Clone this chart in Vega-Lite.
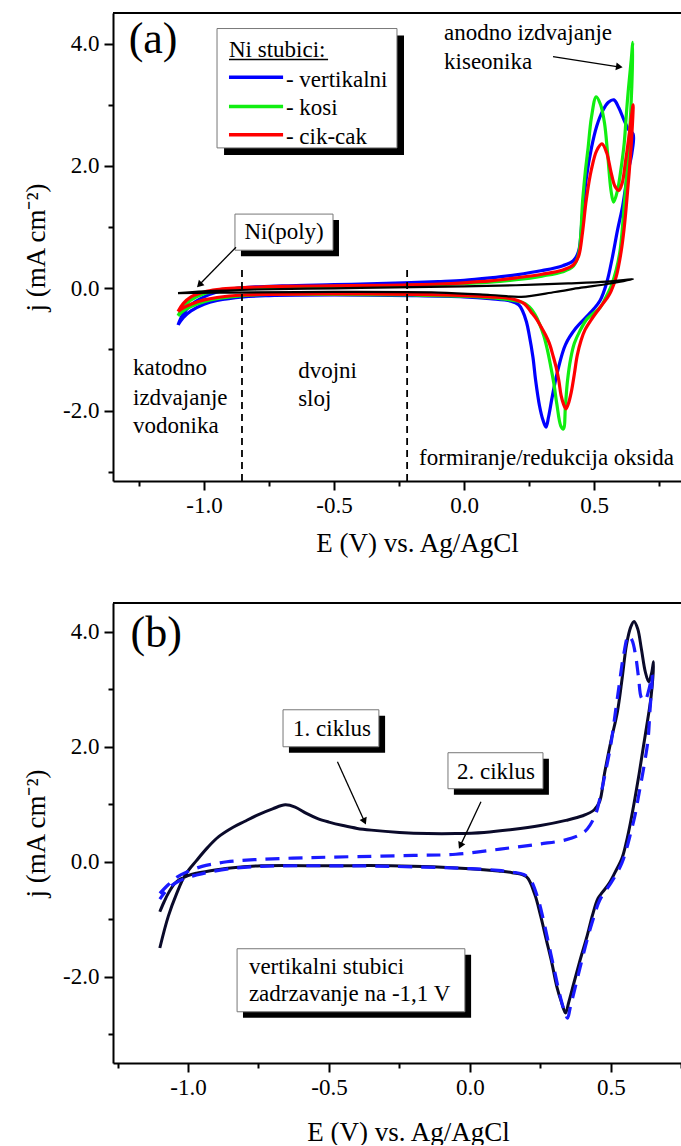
{
  "$schema": "https://vega.github.io/schema/vega-lite/v6.json",
  "padding": {"left": 22, "top": 12, "right": 0, "bottom": 0},
  "spacing": 46,
  "config": {
    "view": {"stroke": null},
    "font": "'Liberation Serif', 'Times New Roman', serif",
    "axis": {"domainColor": "black", "domainWidth": 2, "tickColor": "black", "tickWidth": 2, "labelFont": "'Liberation Serif', 'Times New Roman', serif", "labelFontSize": 23, "labelColor": "black", "titleFont": "'Liberation Serif', 'Times New Roman', serif", "titleFontSize": 27, "titleFontWeight": "normal", "titleColor": "black", "grid": false, "labelFlush": false, "labelOverlap": false},
    "text": {"font": "'Liberation Serif', 'Times New Roman', serif", "fontSize": 23, "color": "black"},
    "line": {"interpolate": "catmull-rom"}
  },
  "datasets": {
    "a": [
      {"s":"vertikalni","i":1,"E":-1.1,"j":-0.6},{"s":"vertikalni","i":2,"E":-1.08,"j":-0.42},{"s":"vertikalni","i":3,"E":-1.05,"j":-0.27},{"s":"vertikalni","i":4,"E":-1.0,"j":-0.14},{"s":"vertikalni","i":5,"E":-0.95,"j":-0.06},{"s":"vertikalni","i":6,"E":-0.9,"j":-0.02},{"s":"vertikalni","i":7,"E":-0.85,"j":0.01},{"s":"vertikalni","i":8,"E":-0.7,"j":0.04},{"s":"vertikalni","i":9,"E":-0.5,"j":0.06},{"s":"vertikalni","i":10,"E":-0.3,"j":0.08},{"s":"vertikalni","i":11,"E":-0.1,"j":0.11},{"s":"vertikalni","i":12,"E":0.0,"j":0.13},{"s":"vertikalni","i":13,"E":0.1,"j":0.17},{"s":"vertikalni","i":14,"E":0.2,"j":0.22},{"s":"vertikalni","i":15,"E":0.3,"j":0.29},{"s":"vertikalni","i":16,"E":0.38,"j":0.37},{"s":"vertikalni","i":17,"E":0.42,"j":0.45},{"s":"vertikalni","i":18,"E":0.44,"j":0.6},{"s":"vertikalni","i":19,"E":0.455,"j":1.2},{"s":"vertikalni","i":20,"E":0.47,"j":1.8},{"s":"vertikalni","i":21,"E":0.49,"j":2.3},{"s":"vertikalni","i":22,"E":0.51,"j":2.65},{"s":"vertikalni","i":23,"E":0.533,"j":2.9},{"s":"vertikalni","i":24,"E":0.555,"j":3.04},{"s":"vertikalni","i":25,"E":0.576,"j":3.08},{"s":"vertikalni","i":26,"E":0.595,"j":2.95},{"s":"vertikalni","i":27,"E":0.615,"j":2.75},{"s":"vertikalni","i":28,"E":0.632,"j":2.6},{"s":"vertikalni","i":29,"E":0.65,"j":2.52},
      {"s":"vertikalni","i":30,"E":0.645,"j":2.2},{"s":"vertikalni","i":31,"E":0.63,"j":1.9},{"s":"vertikalni","i":32,"E":0.61,"j":1.35},{"s":"vertikalni","i":33,"E":0.59,"j":0.95},{"s":"vertikalni","i":34,"E":0.57,"j":0.5},{"s":"vertikalni","i":35,"E":0.549,"j":0.1},{"s":"vertikalni","i":36,"E":0.523,"j":-0.2},{"s":"vertikalni","i":37,"E":0.5,"j":-0.33},{"s":"vertikalni","i":38,"E":0.474,"j":-0.45},{"s":"vertikalni","i":39,"E":0.43,"j":-0.65},{"s":"vertikalni","i":40,"E":0.39,"j":-0.92},{"s":"vertikalni","i":41,"E":0.36,"j":-1.35},{"s":"vertikalni","i":42,"E":0.34,"j":-1.75},{"s":"vertikalni","i":43,"E":0.325,"j":-2.1},{"s":"vertikalni","i":44,"E":0.315,"j":-2.27},{"s":"vertikalni","i":45,"E":0.303,"j":-2.15},{"s":"vertikalni","i":46,"E":0.29,"j":-1.92},{"s":"vertikalni","i":47,"E":0.275,"j":-1.5},{"s":"vertikalni","i":48,"E":0.265,"j":-1.13},{"s":"vertikalni","i":49,"E":0.25,"j":-0.75},{"s":"vertikalni","i":50,"E":0.24,"j":-0.55},{"s":"vertikalni","i":51,"E":0.225,"j":-0.37},{"s":"vertikalni","i":52,"E":0.21,"j":-0.27},{"s":"vertikalni","i":53,"E":0.18,"j":-0.21},{"s":"vertikalni","i":54,"E":0.1,"j":-0.17},{"s":"vertikalni","i":55,"E":0.0,"j":-0.14},{"s":"vertikalni","i":56,"E":-0.2,"j":-0.12},{"s":"vertikalni","i":57,"E":-0.5,"j":-0.11},{"s":"vertikalni","i":58,"E":-0.75,"j":-0.12},{"s":"vertikalni","i":59,"E":-0.85,"j":-0.14},{"s":"vertikalni","i":60,"E":-0.95,"j":-0.2},{"s":"vertikalni","i":61,"E":-1.0,"j":-0.26},{"s":"vertikalni","i":62,"E":-1.05,"j":-0.37},{"s":"vertikalni","i":63,"E":-1.08,"j":-0.48},{"s":"vertikalni","i":64,"E":-1.1,"j":-0.6},
      {"s":"kosi","i":1,"E":-1.1,"j":-0.45},{"s":"kosi","i":2,"E":-1.08,"j":-0.31},{"s":"kosi","i":3,"E":-1.05,"j":-0.19},{"s":"kosi","i":4,"E":-1.0,"j":-0.09},{"s":"kosi","i":5,"E":-0.95,"j":-0.04},{"s":"kosi","i":6,"E":-0.9,"j":-0.01},{"s":"kosi","i":7,"E":-0.85,"j":0.0},{"s":"kosi","i":8,"E":-0.7,"j":0.02},{"s":"kosi","i":9,"E":-0.5,"j":0.03},{"s":"kosi","i":10,"E":-0.3,"j":0.04},{"s":"kosi","i":11,"E":-0.1,"j":0.06},{"s":"kosi","i":12,"E":0.0,"j":0.08},{"s":"kosi","i":13,"E":0.1,"j":0.1},{"s":"kosi","i":14,"E":0.2,"j":0.14},{"s":"kosi","i":15,"E":0.3,"j":0.2},{"s":"kosi","i":16,"E":0.38,"j":0.27},{"s":"kosi","i":17,"E":0.42,"j":0.36},{"s":"kosi","i":18,"E":0.44,"j":0.55},{"s":"kosi","i":19,"E":0.456,"j":1.44},{"s":"kosi","i":20,"E":0.466,"j":1.9},{"s":"kosi","i":21,"E":0.476,"j":2.26},{"s":"kosi","i":22,"E":0.49,"j":2.8},{"s":"kosi","i":23,"E":0.508,"j":3.13},{"s":"kosi","i":24,"E":0.525,"j":3.0},{"s":"kosi","i":25,"E":0.54,"j":2.7},{"s":"kosi","i":26,"E":0.552,"j":2.2},{"s":"kosi","i":27,"E":0.565,"j":1.6},{"s":"kosi","i":28,"E":0.575,"j":1.41},{"s":"kosi","i":29,"E":0.59,"j":1.6},{"s":"kosi","i":30,"E":0.605,"j":2.0},{"s":"kosi","i":31,"E":0.616,"j":2.38},{"s":"kosi","i":32,"E":0.625,"j":2.9},{"s":"kosi","i":33,"E":0.632,"j":3.26},{"s":"kosi","i":34,"E":0.642,"j":3.7},{"s":"kosi","i":35,"E":0.649,"j":4.02},
      {"s":"kosi","i":36,"E":0.645,"j":3.3},{"s":"kosi","i":37,"E":0.636,"j":2.5},{"s":"kosi","i":38,"E":0.624,"j":1.79},{"s":"kosi","i":39,"E":0.612,"j":1.15},{"s":"kosi","i":40,"E":0.6,"j":0.62},{"s":"kosi","i":41,"E":0.585,"j":0.3},{"s":"kosi","i":42,"E":0.566,"j":0.04},{"s":"kosi","i":43,"E":0.545,"j":-0.15},{"s":"kosi","i":44,"E":0.524,"j":-0.31},{"s":"kosi","i":45,"E":0.5,"j":-0.4},{"s":"kosi","i":46,"E":0.473,"j":-0.5},{"s":"kosi","i":47,"E":0.445,"j":-0.7},{"s":"kosi","i":48,"E":0.424,"j":-0.9},{"s":"kosi","i":49,"E":0.41,"j":-1.15},{"s":"kosi","i":50,"E":0.398,"j":-1.5},{"s":"kosi","i":51,"E":0.39,"j":-1.9},{"s":"kosi","i":52,"E":0.382,"j":-2.3},{"s":"kosi","i":53,"E":0.372,"j":-2.25},{"s":"kosi","i":54,"E":0.357,"j":-1.9},{"s":"kosi","i":55,"E":0.345,"j":-1.55},{"s":"kosi","i":56,"E":0.332,"j":-1.25},{"s":"kosi","i":57,"E":0.32,"j":-1.0},{"s":"kosi","i":58,"E":0.307,"j":-0.78},{"s":"kosi","i":59,"E":0.29,"j":-0.58},{"s":"kosi","i":60,"E":0.273,"j":-0.43},{"s":"kosi","i":61,"E":0.25,"j":-0.3},{"s":"kosi","i":62,"E":0.223,"j":-0.23},{"s":"kosi","i":63,"E":0.14,"j":-0.17},{"s":"kosi","i":64,"E":0.0,"j":-0.13},{"s":"kosi","i":65,"E":-0.2,"j":-0.11},{"s":"kosi","i":66,"E":-0.5,"j":-0.1},{"s":"kosi","i":67,"E":-0.75,"j":-0.1},{"s":"kosi","i":68,"E":-0.85,"j":-0.12},{"s":"kosi","i":69,"E":-0.95,"j":-0.17},{"s":"kosi","i":70,"E":-1.0,"j":-0.22},{"s":"kosi","i":71,"E":-1.05,"j":-0.3},{"s":"kosi","i":72,"E":-1.08,"j":-0.37},{"s":"kosi","i":73,"E":-1.1,"j":-0.45},
      {"s":"cik-cak","i":1,"E":-1.1,"j":-0.38},{"s":"cik-cak","i":2,"E":-1.08,"j":-0.25},{"s":"cik-cak","i":3,"E":-1.05,"j":-0.14},{"s":"cik-cak","i":4,"E":-1.0,"j":-0.06},{"s":"cik-cak","i":5,"E":-0.95,"j":-0.02},{"s":"cik-cak","i":6,"E":-0.9,"j":0.0},{"s":"cik-cak","i":7,"E":-0.85,"j":0.01},{"s":"cik-cak","i":8,"E":-0.7,"j":0.03},{"s":"cik-cak","i":9,"E":-0.5,"j":0.04},{"s":"cik-cak","i":10,"E":-0.3,"j":0.05},{"s":"cik-cak","i":11,"E":-0.1,"j":0.07},{"s":"cik-cak","i":12,"E":0.0,"j":0.09},{"s":"cik-cak","i":13,"E":0.1,"j":0.12},{"s":"cik-cak","i":14,"E":0.2,"j":0.17},{"s":"cik-cak","i":15,"E":0.3,"j":0.23},{"s":"cik-cak","i":16,"E":0.38,"j":0.3},{"s":"cik-cak","i":17,"E":0.42,"j":0.38},{"s":"cik-cak","i":18,"E":0.44,"j":0.52},{"s":"cik-cak","i":19,"E":0.455,"j":0.9},{"s":"cik-cak","i":20,"E":0.47,"j":1.45},{"s":"cik-cak","i":21,"E":0.49,"j":1.95},{"s":"cik-cak","i":22,"E":0.51,"j":2.25},{"s":"cik-cak","i":23,"E":0.53,"j":2.36},{"s":"cik-cak","i":24,"E":0.548,"j":2.22},{"s":"cik-cak","i":25,"E":0.565,"j":1.9},{"s":"cik-cak","i":26,"E":0.58,"j":1.67},{"s":"cik-cak","i":27,"E":0.595,"j":1.6},{"s":"cik-cak","i":28,"E":0.608,"j":1.72},{"s":"cik-cak","i":29,"E":0.62,"j":2.05},{"s":"cik-cak","i":30,"E":0.633,"j":2.45},{"s":"cik-cak","i":31,"E":0.642,"j":2.75},{"s":"cik-cak","i":32,"E":0.65,"j":3.0},
      {"s":"cik-cak","i":33,"E":0.645,"j":2.5},{"s":"cik-cak","i":34,"E":0.635,"j":1.9},{"s":"cik-cak","i":35,"E":0.625,"j":1.4},{"s":"cik-cak","i":36,"E":0.616,"j":1.0},{"s":"cik-cak","i":37,"E":0.604,"j":0.6},{"s":"cik-cak","i":38,"E":0.585,"j":0.19},{"s":"cik-cak","i":39,"E":0.565,"j":-0.05},{"s":"cik-cak","i":40,"E":0.553,"j":-0.14},{"s":"cik-cak","i":41,"E":0.52,"j":-0.33},{"s":"cik-cak","i":42,"E":0.488,"j":-0.52},{"s":"cik-cak","i":43,"E":0.465,"j":-0.68},{"s":"cik-cak","i":44,"E":0.45,"j":-0.85},{"s":"cik-cak","i":45,"E":0.435,"j":-1.1},{"s":"cik-cak","i":46,"E":0.424,"j":-1.4},{"s":"cik-cak","i":47,"E":0.412,"j":-1.7},{"s":"cik-cak","i":48,"E":0.4,"j":-1.9},{"s":"cik-cak","i":49,"E":0.392,"j":-1.97},{"s":"cik-cak","i":50,"E":0.383,"j":-1.9},{"s":"cik-cak","i":51,"E":0.373,"j":-1.75},{"s":"cik-cak","i":52,"E":0.364,"j":-1.5},{"s":"cik-cak","i":53,"E":0.354,"j":-1.29},{"s":"cik-cak","i":54,"E":0.342,"j":-1.1},{"s":"cik-cak","i":55,"E":0.328,"j":-0.9},{"s":"cik-cak","i":56,"E":0.313,"j":-0.76},{"s":"cik-cak","i":57,"E":0.296,"j":-0.63},{"s":"cik-cak","i":58,"E":0.278,"j":-0.5},{"s":"cik-cak","i":59,"E":0.258,"j":-0.39},{"s":"cik-cak","i":60,"E":0.231,"j":-0.25},{"s":"cik-cak","i":61,"E":0.181,"j":-0.17},{"s":"cik-cak","i":62,"E":0.1,"j":-0.14},{"s":"cik-cak","i":63,"E":0.0,"j":-0.12},{"s":"cik-cak","i":64,"E":-0.2,"j":-0.1},{"s":"cik-cak","i":65,"E":-0.5,"j":-0.09},{"s":"cik-cak","i":66,"E":-0.75,"j":-0.1},{"s":"cik-cak","i":67,"E":-0.85,"j":-0.11},{"s":"cik-cak","i":68,"E":-0.95,"j":-0.15},{"s":"cik-cak","i":69,"E":-1.0,"j":-0.19},{"s":"cik-cak","i":70,"E":-1.05,"j":-0.26},{"s":"cik-cak","i":71,"E":-1.08,"j":-0.32},{"s":"cik-cak","i":72,"E":-1.1,"j":-0.38},
      {"s":"Ni(poly)","i":1,"E":-1.1,"j":-0.08},{"s":"Ni(poly)","i":2,"E":-1.0,"j":-0.05},{"s":"Ni(poly)","i":3,"E":-0.8,"j":-0.02},{"s":"Ni(poly)","i":4,"E":-0.5,"j":0.0},{"s":"Ni(poly)","i":5,"E":-0.2,"j":0.02},{"s":"Ni(poly)","i":6,"E":0.0,"j":0.03},{"s":"Ni(poly)","i":7,"E":0.2,"j":0.05},{"s":"Ni(poly)","i":8,"E":0.4,"j":0.08},{"s":"Ni(poly)","i":9,"E":0.55,"j":0.11},{"s":"Ni(poly)","i":10,"E":0.65,"j":0.15},{"s":"Ni(poly)","i":11,"E":0.55,"j":0.07},{"s":"Ni(poly)","i":12,"E":0.45,"j":0.01},{"s":"Ni(poly)","i":13,"E":0.35,"j":-0.06},{"s":"Ni(poly)","i":14,"E":0.22,"j":-0.14},{"s":"Ni(poly)","i":15,"E":0.1,"j":-0.11},{"s":"Ni(poly)","i":16,"E":-0.1,"j":-0.07},{"s":"Ni(poly)","i":17,"E":-0.5,"j":-0.06},{"s":"Ni(poly)","i":18,"E":-0.9,"j":-0.07},{"s":"Ni(poly)","i":19,"E":-1.1,"j":-0.08}
    ],
    "b": [
      {"s":"1. ciklus","i":1,"E":-1.1,"j":-1.5},{"s":"1. ciklus","i":2,"E":-1.07,"j":-0.95},{"s":"1. ciklus","i":3,"E":-1.04,"j":-0.55},{"s":"1. ciklus","i":4,"E":-1.01,"j":-0.23},{"s":"1. ciklus","i":5,"E":-0.97,"j":0.02},{"s":"1. ciklus","i":6,"E":-0.93,"j":0.25},{"s":"1. ciklus","i":7,"E":-0.89,"j":0.44},{"s":"1. ciklus","i":8,"E":-0.84,"j":0.6},{"s":"1. ciklus","i":9,"E":-0.8,"j":0.7},{"s":"1. ciklus","i":10,"E":-0.75,"j":0.82},{"s":"1. ciklus","i":11,"E":-0.7,"j":0.92},{"s":"1. ciklus","i":12,"E":-0.655,"j":0.99},{"s":"1. ciklus","i":13,"E":-0.62,"j":0.95},{"s":"1. ciklus","i":14,"E":-0.58,"j":0.84},{"s":"1. ciklus","i":15,"E":-0.54,"j":0.75},{"s":"1. ciklus","i":16,"E":-0.5,"j":0.69},{"s":"1. ciklus","i":17,"E":-0.45,"j":0.63},{"s":"1. ciklus","i":18,"E":-0.4,"j":0.58},{"s":"1. ciklus","i":19,"E":-0.35,"j":0.55},{"s":"1. ciklus","i":20,"E":-0.25,"j":0.51},{"s":"1. ciklus","i":21,"E":-0.15,"j":0.49},{"s":"1. ciklus","i":22,"E":-0.05,"j":0.49},{"s":"1. ciklus","i":23,"E":0.05,"j":0.51},{"s":"1. ciklus","i":24,"E":0.15,"j":0.56},{"s":"1. ciklus","i":25,"E":0.25,"j":0.63},{"s":"1. ciklus","i":26,"E":0.34,"j":0.72},{"s":"1. ciklus","i":27,"E":0.4,"j":0.8},{"s":"1. ciklus","i":28,"E":0.44,"j":0.9},{"s":"1. ciklus","i":29,"E":0.46,"j":1.05},{"s":"1. ciklus","i":30,"E":0.477,"j":1.53},{"s":"1. ciklus","i":31,"E":0.5,"j":2.1},{"s":"1. ciklus","i":32,"E":0.523,"j":2.61},{"s":"1. ciklus","i":33,"E":0.54,"j":3.2},{"s":"1. ciklus","i":34,"E":0.555,"j":3.77},{"s":"1. ciklus","i":35,"E":0.57,"j":4.08},{"s":"1. ciklus","i":36,"E":0.582,"j":4.18},{"s":"1. ciklus","i":37,"E":0.595,"j":4.05},{"s":"1. ciklus","i":38,"E":0.608,"j":3.7},{"s":"1. ciklus","i":39,"E":0.622,"j":3.3},{"s":"1. ciklus","i":40,"E":0.634,"j":3.13},{"s":"1. ciklus","i":41,"E":0.645,"j":3.3},{"s":"1. ciklus","i":42,"E":0.651,"j":3.48},
      {"s":"1. ciklus","i":43,"E":0.643,"j":2.9},{"s":"1. ciklus","i":44,"E":0.631,"j":2.49},{"s":"1. ciklus","i":45,"E":0.615,"j":2.0},{"s":"1. ciklus","i":46,"E":0.6,"j":1.53},{"s":"1. ciklus","i":47,"E":0.585,"j":1.1},{"s":"1. ciklus","i":48,"E":0.57,"j":0.7},{"s":"1. ciklus","i":49,"E":0.555,"j":0.35},{"s":"1. ciklus","i":50,"E":0.539,"j":0.06},{"s":"1. ciklus","i":51,"E":0.515,"j":-0.18},{"s":"1. ciklus","i":52,"E":0.493,"j":-0.38},{"s":"1. ciklus","i":53,"E":0.47,"j":-0.53},{"s":"1. ciklus","i":54,"E":0.454,"j":-0.64},{"s":"1. ciklus","i":55,"E":0.435,"j":-0.92},{"s":"1. ciklus","i":56,"E":0.416,"j":-1.28},{"s":"1. ciklus","i":57,"E":0.39,"j":-1.72},{"s":"1. ciklus","i":58,"E":0.369,"j":-2.1},{"s":"1. ciklus","i":59,"E":0.35,"j":-2.45},{"s":"1. ciklus","i":60,"E":0.339,"j":-2.63},{"s":"1. ciklus","i":61,"E":0.325,"j":-2.45},{"s":"1. ciklus","i":62,"E":0.308,"j":-2.17},{"s":"1. ciklus","i":63,"E":0.29,"j":-1.75},{"s":"1. ciklus","i":64,"E":0.27,"j":-1.34},{"s":"1. ciklus","i":65,"E":0.25,"j":-0.93},{"s":"1. ciklus","i":66,"E":0.23,"j":-0.57},{"s":"1. ciklus","i":67,"E":0.2,"j":-0.26},{"s":"1. ciklus","i":68,"E":0.15,"j":-0.19},{"s":"1. ciklus","i":69,"E":0.1,"j":-0.16},{"s":"1. ciklus","i":70,"E":0.0,"j":-0.12},{"s":"1. ciklus","i":71,"E":-0.28,"j":-0.07},{"s":"1. ciklus","i":72,"E":-0.5,"j":-0.07},{"s":"1. ciklus","i":73,"E":-0.74,"j":-0.07},{"s":"1. ciklus","i":74,"E":-0.85,"j":-0.11},{"s":"1. ciklus","i":75,"E":-0.925,"j":-0.16},{"s":"1. ciklus","i":76,"E":-0.97,"j":-0.2},{"s":"1. ciklus","i":77,"E":-1.0,"j":-0.24},{"s":"1. ciklus","i":78,"E":-1.03,"j":-0.31},{"s":"1. ciklus","i":79,"E":-1.047,"j":-0.38},{"s":"1. ciklus","i":80,"E":-1.07,"j":-0.55},{"s":"1. ciklus","i":81,"E":-1.085,"j":-0.7},{"s":"1. ciklus","i":82,"E":-1.1,"j":-0.87},
      {"s":"2. ciklus","i":1,"E":-1.1,"j":-0.55},{"s":"2. ciklus","i":2,"E":-1.07,"j":-0.4},{"s":"2. ciklus","i":3,"E":-1.04,"j":-0.27},{"s":"2. ciklus","i":4,"E":-1.0,"j":-0.17},{"s":"2. ciklus","i":5,"E":-0.95,"j":-0.08},{"s":"2. ciklus","i":6,"E":-0.9,"j":-0.03},{"s":"2. ciklus","i":7,"E":-0.862,"j":0.0},{"s":"2. ciklus","i":8,"E":-0.75,"j":0.04},{"s":"2. ciklus","i":9,"E":-0.58,"j":0.07},{"s":"2. ciklus","i":10,"E":-0.4,"j":0.09},{"s":"2. ciklus","i":11,"E":-0.2,"j":0.11},{"s":"2. ciklus","i":12,"E":-0.05,"j":0.13},{"s":"2. ciklus","i":13,"E":0.107,"j":0.22},{"s":"2. ciklus","i":14,"E":0.25,"j":0.31},{"s":"2. ciklus","i":15,"E":0.339,"j":0.38},{"s":"2. ciklus","i":16,"E":0.39,"j":0.47},{"s":"2. ciklus","i":17,"E":0.416,"j":0.57},{"s":"2. ciklus","i":18,"E":0.446,"j":0.83},{"s":"2. ciklus","i":19,"E":0.465,"j":1.2},{"s":"2. ciklus","i":20,"E":0.477,"j":1.47},{"s":"2. ciklus","i":21,"E":0.5,"j":2.05},{"s":"2. ciklus","i":22,"E":0.516,"j":2.61},{"s":"2. ciklus","i":23,"E":0.53,"j":3.1},{"s":"2. ciklus","i":24,"E":0.545,"j":3.6},{"s":"2. ciklus","i":25,"E":0.562,"j":3.93},{"s":"2. ciklus","i":26,"E":0.575,"j":3.85},{"s":"2. ciklus","i":27,"E":0.587,"j":3.6},{"s":"2. ciklus","i":28,"E":0.598,"j":3.2},{"s":"2. ciklus","i":29,"E":0.608,"j":2.85},{"s":"2. ciklus","i":30,"E":0.62,"j":2.8},{"s":"2. ciklus","i":31,"E":0.635,"j":3.0},{"s":"2. ciklus","i":32,"E":0.646,"j":3.25},
      {"s":"2. ciklus","i":33,"E":0.638,"j":2.6},{"s":"2. ciklus","i":34,"E":0.631,"j":2.1},{"s":"2. ciklus","i":35,"E":0.615,"j":1.6},{"s":"2. ciklus","i":36,"E":0.6,"j":1.2},{"s":"2. ciklus","i":37,"E":0.585,"j":0.8},{"s":"2. ciklus","i":38,"E":0.57,"j":0.5},{"s":"2. ciklus","i":39,"E":0.555,"j":0.22},{"s":"2. ciklus","i":40,"E":0.539,"j":-0.02},{"s":"2. ciklus","i":41,"E":0.515,"j":-0.25},{"s":"2. ciklus","i":42,"E":0.493,"j":-0.42},{"s":"2. ciklus","i":43,"E":0.46,"j":-0.67},{"s":"2. ciklus","i":44,"E":0.44,"j":-0.95},{"s":"2. ciklus","i":45,"E":0.416,"j":-1.35},{"s":"2. ciklus","i":46,"E":0.39,"j":-1.85},{"s":"2. ciklus","i":47,"E":0.37,"j":-2.25},{"s":"2. ciklus","i":48,"E":0.355,"j":-2.55},{"s":"2. ciklus","i":49,"E":0.346,"j":-2.72},{"s":"2. ciklus","i":50,"E":0.335,"j":-2.6},{"s":"2. ciklus","i":51,"E":0.318,"j":-2.3},{"s":"2. ciklus","i":52,"E":0.3,"j":-1.9},{"s":"2. ciklus","i":53,"E":0.28,"j":-1.45},{"s":"2. ciklus","i":54,"E":0.26,"j":-1.0},{"s":"2. ciklus","i":55,"E":0.24,"j":-0.62},{"s":"2. ciklus","i":56,"E":0.215,"j":-0.32},{"s":"2. ciklus","i":57,"E":0.19,"j":-0.22},{"s":"2. ciklus","i":58,"E":0.15,"j":-0.18},{"s":"2. ciklus","i":59,"E":0.1,"j":-0.15},{"s":"2. ciklus","i":60,"E":0.0,"j":-0.12},{"s":"2. ciklus","i":61,"E":-0.28,"j":-0.08},{"s":"2. ciklus","i":62,"E":-0.5,"j":-0.07},{"s":"2. ciklus","i":63,"E":-0.74,"j":-0.08},{"s":"2. ciklus","i":64,"E":-0.85,"j":-0.12},{"s":"2. ciklus","i":65,"E":-0.925,"j":-0.18},{"s":"2. ciklus","i":66,"E":-0.97,"j":-0.23},{"s":"2. ciklus","i":67,"E":-1.0,"j":-0.27},{"s":"2. ciklus","i":68,"E":-1.03,"j":-0.33},{"s":"2. ciklus","i":69,"E":-1.06,"j":-0.42},{"s":"2. ciklus","i":70,"E":-1.08,"j":-0.52},{"s":"2. ciklus","i":71,"E":-1.1,"j":-0.65}
    ]
  },
  "vconcat": [
    {
      "width": 569,
      "height": 468,
      "layer": [
        {
          "data": {"name": "a"},
          "transform": [{"filter": "datum.s === 'vertikalni'"}],
          "mark": {"type": "line", "strokeWidth": 3.2, "color": "#0000ff"},
          "encoding": {
            "x": {"field": "E", "type": "quantitative", "scale": {"domain": [-1.35, 0.838], "nice": false, "zero": false},
              "axis": {"title": "E (V) vs. Ag/AgCl", "values": [-1.25, -1, -0.75, -0.5, -0.25, 0, 0.25, 0.5, 0.75],
                "labelExpr": "abs(datum.value*2 - round(datum.value*2)) < 0.001 ? (datum.value < 0 ? '-' + format(-datum.value, '.1f') : format(datum.value, '.1f')) : ''",
                "tickSize": {"condition": {"test": "abs(datum.value*2 - round(datum.value*2)) < 0.001", "value": 9}, "value": 5},
                "labelPadding": 4, "titlePadding": 13, "titleX": 304}},
            "y": {"field": "j", "type": "quantitative", "scale": {"domain": [-3.15, 4.5], "nice": false, "zero": false},
              "axis": {"title": "j (mA cm⁻²)", "values": [-3, -2, -1, 0, 1, 2, 3, 4],
                "labelExpr": "abs(datum.value/2 - round(datum.value/2)) < 0.001 ? (datum.value < 0 ? '-' + format(-datum.value, '.1f') : format(datum.value, '.1f')) : ''",
                "tickSize": {"condition": {"test": "abs(datum.value/2 - round(datum.value/2)) < 0.001", "value": 9}, "value": 5},
                "labelPadding": 5, "titlePadding": 12}},
            "order": {"field": "i", "type": "quantitative"}
          }
        },
        {
          "data": {"name": "a"},
          "transform": [{"filter": "datum.s === 'kosi'"}],
          "mark": {"type": "line", "strokeWidth": 3.2, "color": "#11ee11"},
          "encoding": {"x": {"field": "E", "type": "quantitative"}, "y": {"field": "j", "type": "quantitative"}, "order": {"field": "i", "type": "quantitative"}}
        },
        {
          "data": {"name": "a"},
          "transform": [{"filter": "datum.s === 'cik-cak'"}],
          "mark": {"type": "line", "strokeWidth": 3.2, "color": "#ff0000"},
          "encoding": {"x": {"field": "E", "type": "quantitative"}, "y": {"field": "j", "type": "quantitative"}, "order": {"field": "i", "type": "quantitative"}}
        },
        {
          "data": {"name": "a"},
          "transform": [{"filter": "datum.s === 'Ni(poly)'"}],
          "mark": {"type": "line", "strokeWidth": 2.2, "color": "#000000"},
          "encoding": {"x": {"field": "E", "type": "quantitative"}, "y": {"field": "j", "type": "quantitative"}, "order": {"field": "i", "type": "quantitative"}}
        },
        {
          "data": {"values": [{}]},
          "layer": [
            {"mark": {"type": "rule", "strokeWidth": 2, "color": "black"}, "encoding": {"y": {"datum": 4.5}}},
            {"mark": {"type": "rule", "strokeWidth": 1.8, "strokeDash": [7, 5], "color": "black"}, "encoding": {"x": {"datum": -0.854}, "y": {"datum": -3.15}, "y2": {"datum": 0.35}}},
            {"mark": {"type": "rule", "strokeWidth": 1.8, "strokeDash": [7, 5], "color": "black"}, "encoding": {"x": {"datum": -0.219}, "y": {"datum": -3.15}, "y2": {"datum": 0.35}}},
            {"mark": {"type": "rect", "color": "black"}, "encoding": {"x": {"datum": -0.923}, "x2": {"datum": -0.231}, "y": {"datum": 4.131}, "y2": {"datum": 2.18}}},
            {"mark": {"type": "rect", "fill": "white", "stroke": "#777777", "strokeWidth": 1}, "encoding": {"x": {"datum": -0.95}, "x2": {"datum": -0.258}, "y": {"datum": 4.246}, "y2": {"datum": 2.295}}},
            {"mark": {"type": "rect", "color": "black"}, "encoding": {"x": {"datum": -0.858}, "x2": {"datum": -0.481}, "y": {"datum": 1.115}, "y2": {"datum": 0.525}}},
            {"mark": {"type": "rect", "fill": "white", "stroke": "#777777", "strokeWidth": 1}, "encoding": {"x": {"datum": -0.881}, "x2": {"datum": -0.504}, "y": {"datum": 1.213}, "y2": {"datum": 0.623}}},
            {"mark": {"type": "rule", "strokeWidth": 1.5, "color": "black"}, "encoding": {"x": {"datum": -0.904}, "x2": {"datum": -0.523}, "y": {"datum": 3.738}}},
            {"mark": {"type": "rule", "strokeWidth": 3.5, "color": "#0000ff"}, "encoding": {"x": {"datum": -0.904}, "x2": {"datum": -0.696}, "y": {"datum": 3.448}}},
            {"mark": {"type": "rule", "strokeWidth": 3.5, "color": "#11ee11"}, "encoding": {"x": {"datum": -0.904}, "x2": {"datum": -0.696}, "y": {"datum": 2.972}}},
            {"mark": {"type": "rule", "strokeWidth": 3.5, "color": "#ff0000"}, "encoding": {"x": {"datum": -0.904}, "x2": {"datum": -0.696}, "y": {"datum": 2.508}}},
            {"mark": {"type": "rule", "strokeWidth": 1.3, "color": "black"}, "encoding": {"x": {"datum": 0.342}, "x2": {"datum": 0.6}, "y": {"datum": 3.787}, "y2": {"datum": 3.617}}},
            {"mark": {"type": "point", "shape": "triangle-right", "angle": 9, "filled": true, "size": 60, "opacity": 1, "color": "black"}, "encoding": {"x": {"datum": 0.597}, "y": {"datum": 3.62}}},
            {"mark": {"type": "rule", "strokeWidth": 1.3, "color": "black"}, "encoding": {"x": {"datum": -0.877}, "x2": {"datum": -1.02}, "y": {"datum": 0.672}, "y2": {"datum": 0.05}}},
            {"mark": {"type": "point", "shape": "triangle-right", "angle": 134, "filled": true, "size": 60, "opacity": 1, "color": "black"}, "encoding": {"x": {"datum": -1.018}, "y": {"datum": 0.055}}},
            {"mark": {"type": "text", "fontSize": 44, "align": "center", "baseline": "middle"}, "encoding": {"x": {"datum": -1.196}, "y": {"datum": 4.066}, "text": {"value": "(a)"}}},
            {"mark": {"type": "text", "align": "left", "baseline": "middle"}, "encoding": {"x": {"datum": -0.904}, "y": {"datum": 3.9}, "text": {"value": "Ni stubici:"}}},
            {"mark": {"type": "text", "align": "left", "baseline": "middle"}, "encoding": {"x": {"datum": -0.685}, "y": {"datum": 3.41}, "text": {"value": "- vertikalni"}}},
            {"mark": {"type": "text", "align": "left", "baseline": "middle"}, "encoding": {"x": {"datum": -0.685}, "y": {"datum": 2.95}, "text": {"value": "- kosi"}}},
            {"mark": {"type": "text", "align": "left", "baseline": "middle"}, "encoding": {"x": {"datum": -0.685}, "y": {"datum": 2.475}, "text": {"value": "- cik-cak"}}},
            {"mark": {"type": "text", "align": "left", "baseline": "middle"}, "encoding": {"x": {"datum": -0.077}, "y": {"datum": 4.18}, "text": {"value": "anodno izdvajanje"}}},
            {"mark": {"type": "text", "align": "left", "baseline": "middle"}, "encoding": {"x": {"datum": -0.077}, "y": {"datum": 3.705}, "text": {"value": "kiseonika"}}},
            {"mark": {"type": "text", "align": "center", "baseline": "middle"}, "encoding": {"x": {"datum": -0.692}, "y": {"datum": 0.918}, "text": {"value": "Ni(poly)"}}},
            {"mark": {"type": "text", "align": "left", "baseline": "middle"}, "encoding": {"x": {"datum": -1.273}, "y": {"datum": -1.311}, "text": {"value": "katodno"}}},
            {"mark": {"type": "text", "align": "left", "baseline": "middle"}, "encoding": {"x": {"datum": -1.273}, "y": {"datum": -1.787}, "text": {"value": "izdvajanje"}}},
            {"mark": {"type": "text", "align": "left", "baseline": "middle"}, "encoding": {"x": {"datum": -1.273}, "y": {"datum": -2.246}, "text": {"value": "vodonika"}}},
            {"mark": {"type": "text", "align": "left", "baseline": "middle"}, "encoding": {"x": {"datum": -0.638}, "y": {"datum": -1.344}, "text": {"value": "dvojni"}}},
            {"mark": {"type": "text", "align": "left", "baseline": "middle"}, "encoding": {"x": {"datum": -0.638}, "y": {"datum": -1.803}, "text": {"value": "sloj"}}},
            {"mark": {"type": "text", "align": "left", "baseline": "middle"}, "encoding": {"x": {"datum": -0.173}, "y": {"datum": -2.77}, "text": {"value": "formiranje/redukcija oksida"}}}
          ]
        }
      ]
    },
    {
      "width": 569,
      "height": 460,
      "layer": [
        {
          "data": {"name": "b"},
          "transform": [{"filter": "datum.s === '1. ciklus'"}],
          "mark": {"type": "line", "strokeWidth": 3, "color": "#0a0a2a"},
          "encoding": {
            "x": {"field": "E", "type": "quantitative", "scale": {"domain": [-1.266, 0.752], "nice": false, "zero": false},
              "axis": {"title": "E (V) vs. Ag/AgCl", "values": [-1.25, -1, -0.75, -0.5, -0.25, 0, 0.25, 0.5, 0.75],
                "labelExpr": "abs(datum.value*2 - round(datum.value*2)) < 0.001 ? (datum.value < 0 ? '-' + format(-datum.value, '.1f') : format(datum.value, '.1f')) : ''",
                "tickSize": {"condition": {"test": "abs(datum.value*2 - round(datum.value*2)) < 0.001", "value": 9}, "value": 5},
                "labelPadding": 4, "titlePadding": 20, "titleX": 295}},
            "y": {"field": "j", "type": "quantitative", "scale": {"domain": [-3.5, 4.5], "nice": false, "zero": false},
              "axis": {"title": "j (mA cm⁻²)", "values": [-3, -2, -1, 0, 1, 2, 3, 4],
                "labelExpr": "abs(datum.value/2 - round(datum.value/2)) < 0.001 ? (datum.value < 0 ? '-' + format(-datum.value, '.1f') : format(datum.value, '.1f')) : ''",
                "tickSize": {"condition": {"test": "abs(datum.value/2 - round(datum.value/2)) < 0.001", "value": 9}, "value": 5},
                "labelPadding": 5, "titlePadding": 12}},
            "order": {"field": "i", "type": "quantitative"}
          }
        },
        {
          "data": {"name": "b"},
          "transform": [{"filter": "datum.s === '2. ciklus'"}],
          "mark": {"type": "line", "strokeWidth": 3.2, "color": "#1a1aff", "strokeDash": [14, 9]},
          "encoding": {"x": {"field": "E", "type": "quantitative"}, "y": {"field": "j", "type": "quantitative"}, "order": {"field": "i", "type": "quantitative"}}
        },
        {
          "data": {"values": [{}]},
          "layer": [
            {"mark": {"type": "rule", "strokeWidth": 2, "color": "black"}, "encoding": {"y": {"datum": 4.5}}},
            {"mark": {"type": "rect", "color": "black"}, "encoding": {"x": {"datum": -0.642}, "x2": {"datum": -0.301}, "y": {"datum": 2.539}, "y2": {"datum": 1.896}}},
            {"mark": {"type": "rect", "fill": "white", "stroke": "#777777", "strokeWidth": 1}, "encoding": {"x": {"datum": -0.663}, "x2": {"datum": -0.323}, "y": {"datum": 2.643}, "y2": {"datum": 2.0}}},
            {"mark": {"type": "rect", "color": "black"}, "encoding": {"x": {"datum": -0.057}, "x2": {"datum": 0.28}, "y": {"datum": 1.791}, "y2": {"datum": 1.165}}},
            {"mark": {"type": "rect", "fill": "white", "stroke": "#777777", "strokeWidth": 1}, "encoding": {"x": {"datum": -0.078}, "x2": {"datum": 0.259}, "y": {"datum": 1.896}, "y2": {"datum": 1.27}}},
            {"mark": {"type": "rect", "color": "black"}, "encoding": {"x": {"datum": -0.805}, "x2": {"datum": 0.004}, "y": {"datum": -1.617}, "y2": {"datum": -2.713}}},
            {"mark": {"type": "rect", "fill": "white", "stroke": "#777777", "strokeWidth": 1}, "encoding": {"x": {"datum": -0.826}, "x2": {"datum": -0.018}, "y": {"datum": -1.513}, "y2": {"datum": -2.609}}},
            {"mark": {"type": "rule", "strokeWidth": 1.3, "color": "black"}, "encoding": {"x": {"datum": -0.47}, "x2": {"datum": -0.374}, "y": {"datum": 1.739}, "y2": {"datum": 0.7}}},
            {"mark": {"type": "point", "shape": "triangle-right", "angle": 66, "filled": true, "size": 60, "opacity": 1, "color": "black"}, "encoding": {"x": {"datum": -0.374}, "y": {"datum": 0.7}}},
            {"mark": {"type": "rule", "strokeWidth": 1.3, "color": "black"}, "encoding": {"x": {"datum": 0.039}, "x2": {"datum": -0.034}, "y": {"datum": 1.043}, "y2": {"datum": 0.28}}},
            {"mark": {"type": "point", "shape": "triangle-right", "angle": 115, "filled": true, "size": 60, "opacity": 1, "color": "black"}, "encoding": {"x": {"datum": -0.034}, "y": {"datum": 0.28}}},
            {"mark": {"type": "text", "fontSize": 44, "align": "center", "baseline": "middle"}, "encoding": {"x": {"datum": -1.113}, "y": {"datum": 3.965}, "text": {"value": "(b)"}}},
            {"mark": {"type": "text", "align": "center", "baseline": "middle"}, "encoding": {"x": {"datum": -0.489}, "y": {"datum": 2.313}, "text": {"value": "1. ciklus"}}},
            {"mark": {"type": "text", "align": "center", "baseline": "middle"}, "encoding": {"x": {"datum": 0.092}, "y": {"datum": 1.565}, "text": {"value": "2. ciklus"}}},
            {"mark": {"type": "text", "align": "left", "baseline": "middle"}, "encoding": {"x": {"datum": -0.784}, "y": {"datum": -1.826}, "text": {"value": "vertikalni stubici"}}},
            {"mark": {"type": "text", "align": "left", "baseline": "middle"}, "encoding": {"x": {"datum": -0.784}, "y": {"datum": -2.304}, "text": {"value": "zadrzavanje na -1,1 V"}}}
          ]
        }
      ]
    }
  ]
}
